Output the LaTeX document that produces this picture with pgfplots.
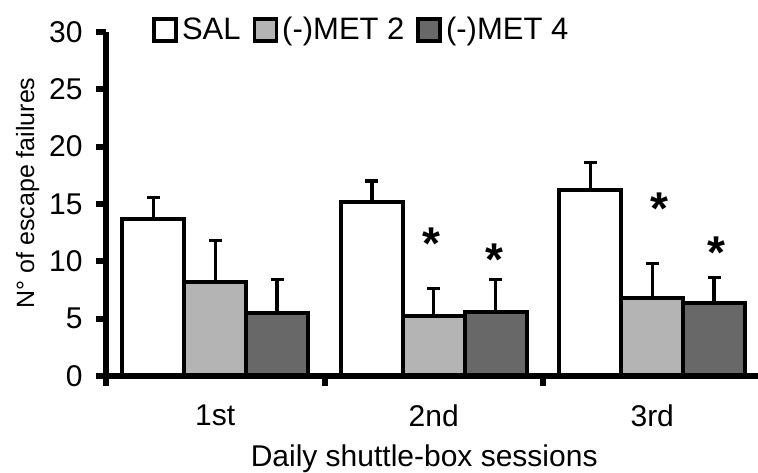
\documentclass[border=0pt]{standalone}
\usepackage{fontspec}
\setmainfont{Liberation Sans}
\newfontfamily\ylabfont{Liberation Sans}
\usepackage{pgfplots}
\pgfplotsset{compat=1.18}
\definecolor{metlight}{RGB}{180,180,180}
\definecolor{metdark}{RGB}{104,104,104}
\begin{document}
\begin{tikzpicture}
\begin{axis}[
  scale only axis,
  width=326bp, height=172bp,
  xmin=-0.5, xmax=2.484,
  ymin=0, ymax=30,
  clip=false,
  axis on top,
  axis x line=bottom, axis y line=left,
  axis line style={-, line width=3bp, black},
  ytick={0,5,...,30},
  xtick={0,1,2}, xticklabels={1st,2nd,3rd},
  minor xtick={-0.5,0.5,1.5},
  tick align=outside,
  major tick length=5bp,
  minor tick length=5bp,
  major x tick style={draw=none},
  minor x tick style={line width=3bp, black},
  major y tick style={line width=3bp, black},
  /pgf/number format/assume math mode=true,
  ticklabel style={font=\fontsize{15bp}{17bp}\selectfont},
  yticklabel style={anchor=east, inner sep=0pt, xshift=-6.5bp},
  xticklabel style={anchor=north, inner sep=0pt, yshift=-9bp},
  xlabel={Daily shuttle-box sessions},
  xlabel style={at={(axis description cs:0.488,-0.2645)}, anchor=base, font=\fontsize{15bp}{18bp}\selectfont},
  ylabel={\ylabfont N° of escape failures},
  ylabel style={at={(axis description cs:-0.12,0.532)}, anchor=center, font=\fontsize{12.5bp}{15bp}\selectfont},
  legend columns=3,
  legend style={draw=none, fill=none, at={(axis description cs:0.0706,1.006)}, anchor=west, inner sep=0pt,
    font=\fontsize{15.5bp}{17bp}\selectfont,
    nodes={inner sep=2bp},
    /tikz/every even column/.append style={column sep=4bp}},
  legend image code/.code={\draw[#1, line width=1.8bp] (0bp,-5.5bp) rectangle (11bp,5.5bp);},
  error bars/y dir=plus,
  error bars/y explicit,
  error bars/error bar style={line width=1.6bp, black},
  error bars/error mark options={rotate=90, mark size=3.25bp, line width=1.6bp, black},
]
\addplot[ybar, bar width=0.283, bar shift=0, fill=white, draw=black, line width=2bp]
  coordinates {(-0.283,13.7) +- (0,1.9) (0.717,15.2) +- (0,1.8) (1.717,16.2) +- (0,2.4)};
\addplot[ybar, bar width=0.283, bar shift=0, fill=metlight, draw=black, line width=2bp]
  coordinates {(0,8.2) +- (0,3.65) (1,5.2) +- (0,2.4) (2,6.8) +- (0,3.0)};
\addplot[ybar, bar width=0.283, bar shift=0, fill=metdark, draw=black, line width=2bp]
  coordinates {(0.283,5.5) +- (0,2.9) (1.283,5.55) +- (0,2.85) (2.283,6.35) +- (0,2.25)};
\legend{SAL,(-)MET 2,(-)MET 4}
\addplot[forget plot, draw=none, mark=none, nodes near coords={\bfseries *},
  every node near coord/.append style={anchor=center, inner sep=0pt, yshift=-4bp, font=\fontsize{23bp}{25bp}\selectfont}]
  coordinates {(0.991,12.2) (1.280,10.84) (2.031,15.29) (2.296,11.42)};
\end{axis}
\pgfresetboundingbox
\path (-53bp,-48.5bp) rectangle (326bp,188bp);
\end{tikzpicture}
\end{document}
